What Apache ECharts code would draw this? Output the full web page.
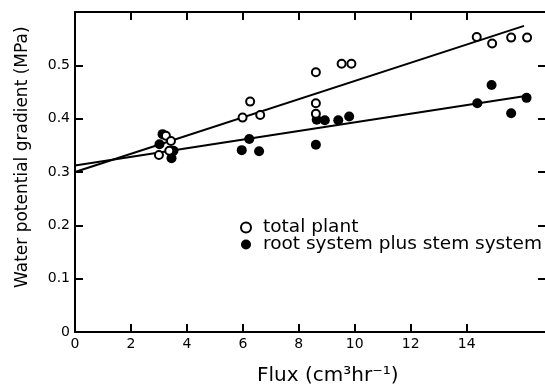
<!DOCTYPE html>
<html><head><meta charset="utf-8">
<script src="https://cdn.jsdelivr.net/npm/echarts@6/dist/echarts.min.js"></script>
<style>html,body{margin:0;padding:0;background:#fff}#c{width:545px;height:388px}</style>
</head><body><div id="c"></div>
<script>
const xTickLabels = [0, 2, 4, 6, 8, 10, 12, 14];
const xTicks = [2, 4, 6, 8, 10, 12, 14];
const yTickLabels = [0, 0.1, 0.2, 0.3, 0.4, 0.5];
const yTicks = [0.1, 0.2, 0.3, 0.4, 0.5];

const totalPlant = [
  [3.0, 0.332], [3.25, 0.368], [3.43, 0.358], [3.37, 0.340],
  [5.99, 0.402], [6.26, 0.432], [6.62, 0.407],
  [8.61, 0.487], [8.61, 0.429], [8.61, 0.409], [9.53, 0.503], [9.88, 0.503],
  [14.36, 0.553], [14.91, 0.541], [15.59, 0.552], [16.16, 0.552]
];
const rootStem = [
  [3.02, 0.352], [3.13, 0.371], [3.45, 0.326], [3.52, 0.340],
  [5.96, 0.341], [6.23, 0.362], [6.58, 0.339],
  [8.61, 0.351], [8.64, 0.398], [8.93, 0.397], [9.41, 0.397], [9.8, 0.404],
  [14.38, 0.429], [14.89, 0.463], [15.59, 0.410], [16.14, 0.439]
];
const totalFit = [[0, 0.300], [16.05, 0.574]];
const rootFit = [[0, 0.312], [16.16, 0.443]];

const FONT = 'DejaVu Sans';
const chart = echarts.init(document.getElementById('c'));
const axisLine = {show: true, onZero: false, lineStyle: {color: '#000', width: 2}};
const tick = (len, vals) => ({show: true, inside: true, length: len, customValues: vals, lineStyle: {color: '#000', width: 2}});
chart.setOption({
  animation: false,
  textStyle: {fontFamily: FONT, color: '#000'},
  grid: {left: 75, top: 12, width: 471, height: 320},
  xAxis: [{
    type: 'value', min: 0, max: 16.8, position: 'bottom',
    axisLine: axisLine, splitLine: {show: false}, axisTick: tick(8, xTicks),
    axisLabel: {customValues: xTickLabels, fontSize: 14, color: '#000', fontFamily: FONT, margin: 5}
  }, {
    type: 'value', min: 0, max: 16.8, position: 'top',
    axisLine: axisLine, splitLine: {show: false}, axisTick: tick(8, xTicks),
    axisLabel: {show: false}
  }],
  yAxis: [{
    type: 'value', min: 0, max: 0.6, position: 'left',
    axisLine: axisLine, splitLine: {show: false}, axisTick: tick(8, yTicks),
    axisLabel: {customValues: yTickLabels, fontSize: 14, color: '#000', fontFamily: FONT, margin: 5,
      formatter: v => v === 0 ? '0' : v.toFixed(1)}
  }, {
    type: 'value', min: 0, max: 0.6, position: 'right',
    axisLine: {show: false, onZero: false}, splitLine: {show: false}, axisTick: tick(7, yTicks),
    axisLabel: {show: false}
  }],
  legend: {
    orient: 'vertical', left: 235, top: 213, itemGap: -2, itemWidth: 10, itemHeight: 10,
    data: ['total plant', 'root system plus stem system'],
    textStyle: {fontSize: 18.5, lineHeight: 16, fontFamily: FONT, color: '#000', padding: [0, 0, 0, 7]}
  },
  graphic: [
    {type: 'text', left: 257, top: 366, style: {text: 'Flux (cm³hr⁻¹)', font: '20px "DejaVu Sans"', fill: '#000'}},
    {type: 'text', x: 14, y: 288, rotation: Math.PI / 2,
      style: {text: 'Water potential gradient (MPa)', font: '17px "DejaVu Sans"', fill: '#000'}}
  ],
  series: [
    {type: 'line', data: totalFit, symbol: 'none', lineStyle: {color: '#000', width: 2}, z: 1, silent: true},
    {type: 'line', data: rootFit, symbol: 'none', lineStyle: {color: '#000', width: 2}, z: 1, silent: true},
    {name: 'total plant', type: 'scatter', data: totalPlant, symbol: 'circle', symbolSize: 8,
      itemStyle: {color: '#fff', borderColor: '#000', borderWidth: 2, opacity: 1}, z: 3},
    {name: 'root system plus stem system', type: 'scatter', data: rootStem, symbol: 'circle', symbolSize: 10,
      itemStyle: {color: '#000', borderColor: '#000', borderWidth: 0, opacity: 1}, z: 2}
  ]
});
</script></body></html>
